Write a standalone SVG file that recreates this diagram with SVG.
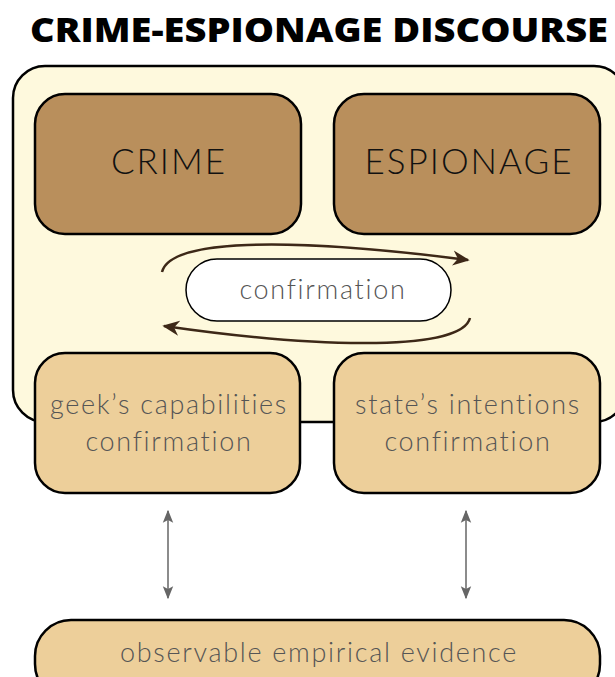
<svg xmlns="http://www.w3.org/2000/svg" width="615" height="677" viewBox="0 0 615 677">
<style>
.title{font-family:"Open Sans","Liberation Sans",sans-serif;font-weight:800;font-size:33px;fill:#000}
.big{font-family:Lato,"Open Sans","Liberation Sans",sans-serif;font-weight:300;font-size:35px;fill:#111;letter-spacing:2px}
.lbl{font-family:Lato,"Open Sans","Liberation Sans",sans-serif;font-weight:300;font-size:27px;fill:#555;letter-spacing:1.7px}
.box{stroke:#000;stroke-width:2.5}
.dark{fill:#B98F5C}
.light{fill:#EDCF9A}
.loop{fill:none;stroke:#3d2817;stroke-width:2.5}
.dbl{fill:none;stroke:#666;stroke-width:1.5}
</style>
<defs>
<marker id="ah" viewBox="0 0 10 10" refX="9" refY="5" markerWidth="17" markerHeight="17" markerUnits="userSpaceOnUse" orient="auto">
<path d="M0,0.5 L10,5 L0,9.5 L3,5 Z" fill="#3d2817"/>
</marker>
<marker id="gh" viewBox="0 0 10 10" refX="9" refY="5" markerWidth="13" markerHeight="13" markerUnits="userSpaceOnUse" orient="auto-start-reverse">
<path d="M0,1 L10,5 L0,9 L2,5 Z" fill="#666"/>
</marker>
</defs>
<rect width="615" height="677" fill="#fff"/>
<text class="title" x="319" y="42" text-anchor="middle" textLength="578" lengthAdjust="spacingAndGlyphs">CRIME-ESPIONAGE DISCOURSE</text>
<g id="discourse">
<rect class="box" x="13" y="66" width="613" height="356" rx="32" fill="#FEF9DD"/>
</g>
<g id="crime">
<rect class="box dark" x="35" y="94" width="266" height="140" rx="30"/>
<text class="big" x="169" y="174" text-anchor="middle">CRIME</text>
</g>
<g id="espionage">
<rect class="box dark" x="334" y="94" width="266" height="140" rx="30"/>
<text class="big" x="469" y="174" text-anchor="middle">ESPIONAGE</text>
</g>
<g id="confirmation">
<rect x="186" y="259" width="265" height="62" rx="31" fill="#fff" stroke="#000" stroke-width="1.5"/>
<text class="lbl" x="323" y="299" text-anchor="middle">confirmation</text>
</g>
<g id="geek">
<rect class="box light" x="35" y="353" width="265" height="140" rx="30"/>
<text class="lbl" x="169" y="414" text-anchor="middle">geek’s capabilities</text>
<text class="lbl" x="169" y="451" text-anchor="middle">confirmation</text>
</g>
<g id="state">
<rect class="box light" x="334" y="353" width="266" height="140" rx="30"/>
<text class="lbl" x="468" y="414" text-anchor="middle">state’s intentions</text>
<text class="lbl" x="468" y="451" text-anchor="middle">confirmation</text>
</g>
<g id="evidence">
<rect class="box light" x="35" y="620" width="565" height="80" rx="36"/>
<text class="lbl" x="319" y="662" text-anchor="middle">observable empirical evidence</text>
</g>
<g id="connectors">
<path class="loop" d="M162,272 C170,240 280,236 468,260" marker-end="url(#ah)"/>
<path class="loop" d="M470,318 C462,350 330,350 164,326" marker-end="url(#ah)"/>
<path class="dbl" d="M168,511 L168,598" marker-start="url(#gh)" marker-end="url(#gh)"/>
<path class="dbl" d="M466,511 L466,598" marker-start="url(#gh)" marker-end="url(#gh)"/>
</g>
</svg>
